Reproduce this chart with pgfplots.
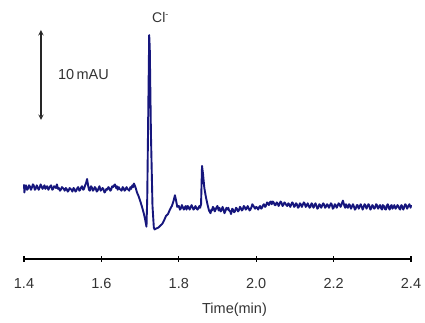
\documentclass[border=0pt]{standalone}
\usepackage{pgfplots}
\pgfplotsset{compat=1.18}
\usepackage{fontspec}
\setmainfont{Liberation Sans}
\definecolor{navy}{RGB}{22,22,125}
\begin{document}
\begin{tikzpicture}
\begin{axis}[
  at={(0,0)}, anchor=south west,
  scale only axis, width=387pt, height=229pt,
  xmin=1.4, xmax=2.4, ymin=-7.89, ymax=17.56,
  axis x line=bottom, axis y line=none,
  axis line style={line width=1.2pt,-},
  xtick={1.4,1.6,1.8,2.0,2.2,2.4},
  xticklabels={1.4,1.6,1.8,2.0,2.2,2.4},
  /pgf/number format/assume math mode=true,
  tick align=center, major tick length=6pt,
  tick style={line width=1.2pt,black},
  xticklabel style={font=\fontsize{14.5}{16}\selectfont, yshift=-13pt, text=black!80},
  xlabel={Time(min)},
  xlabel style={font=\fontsize{14.5}{16}\selectfont, xshift=17pt, yshift=-7pt, text=black!80},
  clip=false,
]
\addplot[navy, line width=1.9pt, line join=round] coordinates {
(1.400,0.4)(1.401,-0.5)(1.403,0.1)(1.405,0.3)(1.408,-0.2)(1.410,-0.1)(1.413,0.3)(1.415,0.2)(1.418,-0.2)(1.420,0.0)(1.423,0.4)(1.425,0.3)
(1.428,-0.2)(1.430,-0.1)(1.433,0.3)(1.435,0.1)(1.438,-0.2)(1.440,0.0)(1.443,0.4)(1.445,0.2)(1.448,-0.1)(1.450,0.1)(1.453,0.3)(1.455,-0.1)(1.458,0.1)(1.460,0.2)(1.463,-0.2)(1.465,0.0)
(1.468,0.2)(1.470,0.3)(1.473,-0.2)(1.475,-0.1)(1.478,0.2)(1.480,0.1)(1.483,0.0)(1.485,0.4)(1.488,-0.1)(1.490,0.0)(1.493,-0.3)(1.495,-0.2)(1.498,0.1)(1.500,0.0)(1.503,-0.1)(1.505,-0.3)
(1.508,0.0)(1.510,-0.1)(1.513,-0.4)(1.515,-0.3)(1.518,0.0)(1.520,-0.1)(1.523,-0.2)(1.525,-0.4)(1.528,0.0)(1.530,-0.1)(1.533,-0.4)(1.535,-0.3)(1.538,0.0)(1.540,0.1)(1.543,-0.3)(1.545,-0.2)
(1.548,0.1)(1.550,0.2)(1.553,-0.2)(1.555,-0.1)(1.558,0.3)(1.560,0.5)(1.563,1.0)(1.566,0.2)(1.568,-0.2)(1.570,-0.3)(1.573,0.2)(1.575,0.1)(1.578,-0.3)(1.580,-0.2)
(1.583,0.1)(1.585,0.0)(1.588,-0.4)(1.590,-0.3)(1.593,0.0)(1.595,0.2)(1.598,-0.3)(1.600,-0.2)(1.603,0.0)(1.605,-0.1)(1.608,-0.5)(1.610,-0.4)(1.613,-0.1)(1.615,-0.2)(1.618,0.1)(1.620,0.0)
(1.623,-0.3)(1.625,-0.2)(1.628,0.2)(1.630,0.1)(1.633,0.3)(1.635,0.4)(1.638,0.0)(1.640,0.2)(1.642,-0.2)(1.645,0.1)(1.647,-0.1)(1.650,-0.2)(1.652,-0.3)(1.655,0.1)(1.657,0.0)
(1.660,-0.3)(1.662,-0.2)(1.665,0.1)(1.667,-0.1)(1.670,-0.2)(1.672,-0.3)(1.675,0.1)(1.677,-0.1)(1.680,0.3)(1.682,0.1)(1.684,0.5)(1.688,0.1)(1.692,-0.5)
(1.696,-0.9)(1.700,-1.4)(1.705,-2.1)(1.710,-2.9)(1.713,-3.5)(1.7165,-4.3)(1.7185,-1.0)(1.7215,10.0)
(1.7235,17.0)(1.7250,15.5)(1.7280,6.0)(1.7320,-2.0)(1.7355,-4.4)(1.7375,-4.6)(1.742,-4.5)(1.747,-4.4)
(1.752,-4.2)(1.757,-4.0)(1.762,-3.6)(1.767,-3.1)(1.772,-2.9)(1.777,-2.4)(1.782,-2.0)(1.786,-1.5)
(1.790,-0.8)(1.793,-1.4)(1.796,-2.1)(1.800,-2.0)(1.803,-2.4)(1.805,-2.3)(1.808,-1.9)(1.810,-2.1)(1.813,-2.4)(1.815,-2.2)(1.818,-2.0)(1.820,-2.4)
(1.823,-2.0)(1.825,-2.1)(1.828,-2.4)(1.830,-2.2)(1.833,-1.9)(1.835,-2.1)(1.838,-2.4)(1.840,-2.3)(1.843,-2.0)(1.845,-2.2)(1.848,-2.4)(1.850,-2.3)(1.853,-2.0)(1.855,-2.2)(1.8575,-1.8)
(1.8600,2.45)(1.8625,1.6)(1.866,0.0)(1.870,-1.0)(1.874,-1.8)(1.878,-2.5)(1.882,-2.8)(1.884,-2.4)(1.886,-2.5)
(1.888,-2.1)(1.890,-2.2)(1.893,-2.6)(1.895,-2.4)(1.898,-2.1)(1.900,-2.0)(1.903,-2.5)(1.905,-2.2)(1.908,-2.6)(1.910,-2.5)(1.913,-2.1)(1.915,-2.3)(1.918,-2.8)(1.920,-2.6)(1.923,-2.2)(1.925,-2.4)
(1.928,-2.2)(1.930,-2.5)(1.933,-2.6)(1.935,-2.9)(1.938,-2.3)(1.940,-2.4)(1.943,-2.7)(1.945,-2.6)(1.948,-2.2)(1.950,-2.3)(1.953,-2.6)(1.955,-2.5)(1.958,-2.1)(1.960,-2.2)(1.963,-2.5)(1.965,-2.4)
(1.968,-2.0)(1.970,-2.1)(1.973,-2.4)(1.975,-2.3)(1.978,-2.0)(1.980,-2.2)(1.983,-2.5)(1.985,-2.4)(1.988,-2.1)(1.990,-1.8)(1.993,-2.0)(1.997,-2.3)(2.000,-2.1)
(2.003,-2.2)(2.005,-2.4)(2.008,-2.1)(2.010,-2.0)(2.013,-2.3)(2.015,-2.2)(2.018,-1.9)(2.020,-1.8)(2.023,-2.1)(2.025,-2.0)(2.028,-1.6)(2.030,-1.7)(2.033,-1.9)(2.035,-1.6)(2.038,-1.5)(2.040,-1.8)
(2.043,-1.5)(2.045,-1.6)(2.048,-1.9)(2.050,-1.9)(2.053,-1.6)(2.055,-1.7)(2.058,-2.0)(2.060,-1.8)(2.063,-1.5)(2.065,-1.6)(2.068,-2.0)(2.070,-1.9)(2.073,-1.6)(2.075,-1.7)(2.078,-1.9)(2.080,-2.0)
(2.083,-1.7)(2.085,-1.8)(2.088,-2.1)(2.090,-1.9)(2.093,-1.6)(2.095,-1.7)(2.098,-2.1)(2.100,-2.0)(2.103,-1.7)(2.105,-1.8)(2.108,-2.2)(2.110,-2.1)(2.113,-1.7)(2.115,-1.8)(2.118,-2.1)(2.120,-1.9)
(2.123,-1.6)(2.125,-1.7)(2.128,-2.1)(2.130,-2.0)(2.133,-1.7)(2.135,-1.9)(2.138,-2.2)(2.140,-2.1)(2.143,-1.7)(2.145,-1.8)(2.148,-2.2)(2.150,-2.0)(2.153,-1.7)(2.155,-1.9)(2.158,-2.3)(2.160,-2.2)
(2.163,-1.8)(2.165,-1.9)(2.168,-2.2)(2.170,-2.0)(2.173,-1.7)(2.175,-1.8)(2.178,-2.2)(2.180,-2.1)(2.183,-1.8)(2.185,-1.9)(2.188,-2.2)(2.190,-2.0)(2.193,-1.7)(2.195,-1.8)(2.198,-2.3)(2.200,-2.2)
(2.203,-1.8)(2.205,-1.9)(2.208,-2.2)(2.210,-2.0)(2.213,-1.7)(2.215,-1.8)(2.218,-2.1)(2.220,-1.9)(2.224,-1.4)(2.228,-2.0)(2.230,-2.2)(2.232,-1.8)(2.235,-2.1)(2.237,-2.2)
(2.240,-1.8)(2.242,-1.9)(2.245,-2.3)(2.247,-2.1)(2.250,-1.8)(2.252,-2.0)(2.255,-2.4)(2.257,-2.3)(2.260,-1.9)(2.262,-1.9)(2.265,-2.3)(2.267,-2.1)(2.270,-1.8)(2.272,-2.0)(2.275,-2.4)(2.277,-2.2)
(2.280,-1.8)(2.282,-1.9)(2.285,-2.3)(2.287,-2.1)(2.290,-1.8)(2.292,-1.9)(2.295,-2.4)(2.297,-2.3)(2.300,-1.9)(2.302,-2.0)(2.305,-2.3)(2.307,-2.2)(2.310,-1.8)(2.312,-1.9)(2.315,-2.3)(2.317,-2.1)
(2.320,-1.9)(2.322,-2.2)(2.325,-2.4)(2.327,-1.9)(2.330,-2.0)(2.332,-2.3)(2.335,-2.4)(2.337,-2.0)(2.340,-1.8)(2.342,-2.2)(2.345,-2.4)(2.347,-2.0)(2.350,-1.9)(2.352,-2.3)(2.355,-2.1)(2.357,-1.9)
(2.360,-2.3)(2.362,-2.2)(2.365,-1.9)(2.367,-2.0)(2.370,-2.3)(2.372,-2.4)(2.375,-1.9)(2.377,-2.0)(2.380,-2.4)(2.382,-2.2)(2.385,-1.8)(2.387,-1.9)(2.390,-2.3)(2.392,-2.1)(2.396,-1.8)
(2.399,-2.2)(2.400,-1.9)
};
\draw[<->, >=stealth, line width=1.4pt, black!85] (axis cs:1.4439,17.56) -- (axis cs:1.4439,7.56);
\node[font=\fontsize{14.5}{16}\selectfont, text=black!80] at (axis cs:1.5537,12.56) {10\,mAU};
\node[font=\fontsize{14}{16}\selectfont, text=black!80, anchor=west, inner sep=0pt] at (axis cs:1.7307,19.0) {Cl\raisebox{0.55ex}{\fontsize{9}{9}\selectfont -}};
\end{axis}
\pgfresetboundingbox
\path[use as bounding box] (-24pt,-64pt) rectangle (401pt,259pt);
\end{tikzpicture}
\end{document}
